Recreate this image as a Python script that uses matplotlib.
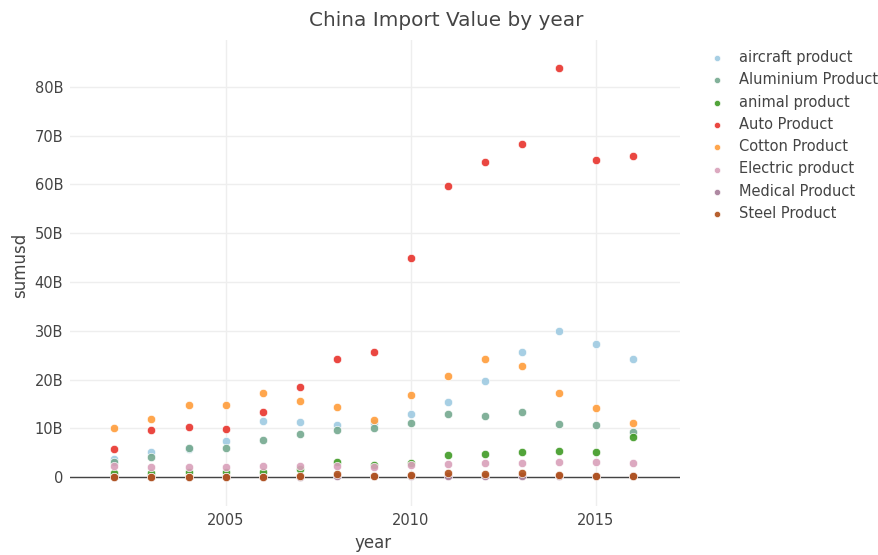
import numpy as np
import matplotlib.pyplot as plt
from matplotlib.ticker import FuncFormatter

# data (values in billions of USD)
years = list(range(2002, 2017))

aircraft = [3.7, 5.2, 5.8, 7.5, 11.6, 11.4, 10.6, 11.1, 12.9, 15.4, 19.8, 25.6, 30.0, 27.3, 24.2]
aluminium = [3.2, 4.2, 5.9, 6.0, 7.6, 8.8, 9.6, 10.0, 11.1, 13.0, 12.5, 13.4, 11.0, 10.7, 9.3]
animal = [0.8, 0.9, 1.0, 1.0, 1.0, 1.6, 3.2, 2.6, 3.0, 4.6, 4.8, 5.1, 5.3, 5.1, 8.2]
auto = [5.8, 9.7, 10.3, 9.9, 13.3, 18.5, 24.3, 25.6, 44.9, 59.7, 64.5, 68.3, 83.8, 65.0, 65.9]
cotton = [10.0, 12.0, 14.8, 14.9, 17.3, 15.6, 14.3, 11.8, 16.9, 20.7, 24.3, 22.7, 17.3, 14.1, 11.1]
electric = [2.2, 2.1, 2.1, 2.0, 2.3, 2.2, 2.2, 2.1, 2.6, 2.8, 2.9, 2.9, 3.2, 3.1, 2.9]
medical = [0.1, 0.1, 0.1, 0.1, 0.1, 0.1, 0.2, 0.2, 0.2, 0.2, 0.3, 0.3, 0.3, 0.3, 0.3]
steel = [0.1, 0.1, 0.1, 0.1, 0.1, 0.2, 0.6, 0.2, 0.5, 0.9, 0.7, 0.8, 0.5, 0.3, 0.3]

names = ['aircraft product', 'Aluminium Product', 'animal product', 'Auto Product',
         'Cotton Product', 'Electric product', 'Medical Product', 'Steel Product']
series = [aircraft, aluminium, animal, auto, cotton, electric, medical, steel]
colors = ['#9ecae1', '#74a98f', '#3f9a24', '#e8332c', '#ff9c3a', '#d9a0ba', '#a57b98', '#b04f18']

fig = plt.figure(figsize=(8.79, 5.55), dpi=100)
ax = fig.add_axes([70/879, 1 - 506/555, 610/879, 466/555])

for name, vals, c in zip(names, series, colors):
    ax.scatter(years, np.array(vals) * 1e9, s=36, color=c, alpha=0.9,
               edgecolors='white', linewidths=0.5, label=name, zorder=3)

ax.set_xlim(2000.8, 2017.27)
ax.set_ylim(-5.9e9, 89.6e9)
ax.set_xticks([2005, 2010, 2015])
ax.set_yticks(np.arange(0, 81e9, 10e9))
ax.yaxis.set_major_formatter(FuncFormatter(lambda v, p: '0' if v == 0 else f'{int(v/1e9)}B'))

ax.grid(True, color='#eeeeee', linewidth=1)
ax.set_axisbelow(True)
ax.axhline(0, color='#444444', linewidth=1, zorder=2)
for s in ax.spines.values():
    s.set_visible(False)
ax.tick_params(length=0, labelsize=10.5, colors='#444444', pad=5)

fig.text(373/879, 1 - 543/555, 'year', ha='center', va='center', fontsize=12, color='#444444')
fig.text(20/879, 1 - 265/555, 'sumusd', ha='center', va='center', rotation=90, fontsize=12, color='#444444')
fig.text(446/879, 1 - 20/555, 'China Import Value by year', ha='center', va='center', fontsize=14.4, color='#444444')

leg = ax.legend(loc='upper left', bbox_to_anchor=(702/879, 1 - 50/555), bbox_transform=fig.transFigure,
                frameon=False, fontsize=10.5, labelspacing=0.5, handletextpad=0.55, markerscale=0.75,
                borderaxespad=0, borderpad=0)
for t in leg.get_texts():
    t.set_color('#444444')

plt.savefig('out.png', dpi=100)
